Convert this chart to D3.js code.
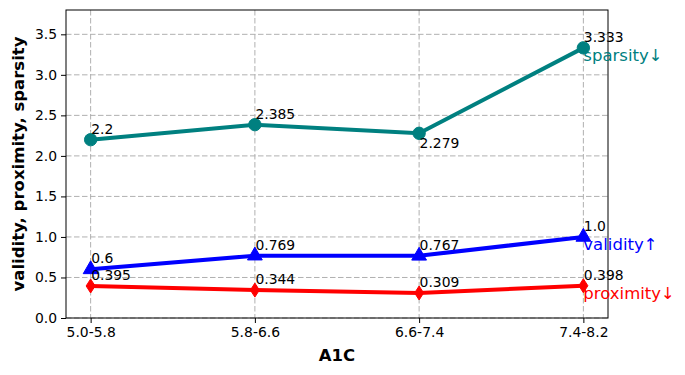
<!DOCTYPE html>
<html>
<head>
<meta charset="utf-8">
<script src="https://cdn.jsdelivr.net/npm/d3@7"></script>
<style>
body { margin: 0; background: #fff; }
text { font-family: "DejaVu Sans", sans-serif; }
</style>
</head>
<body>
<script>
var width = 685;
var height = 375;
var margin = {top: 10, right: 77, bottom: 57, left: 66};

var categories = ["5.0-5.8", "5.8-6.6", "6.6-7.4", "7.4-8.2"];
var sparsity = [2.2, 2.385, 2.279, 3.333];
var validity = [0.6, 0.769, 0.767, 1.0];
var proximity = [0.395, 0.344, 0.309, 0.398];
var yTicks = [0, 0.5, 1, 1.5, 2, 2.5, 3, 3.5];

var series = [
    {name: "sparsity↓", values: sparsity, color: "#008080", marker: "circle"},
    {name: "validity↑", values: validity, color: "#0000ff", marker: "triangle"},
    {name: "proximity↓", values: proximity, color: "#ff0000", marker: "diamond"}
];

var x = d3.scaleLinear()
    .domain([-0.15, categories.length - 1 + 0.15])
    .range([margin.left, width - margin.right]);

var y = d3.scaleLinear()
    .domain([0, 3.8])
    .range([height - margin.bottom, margin.top]);

var svg = d3.select("body")
    .append("svg")
    .attr("width", width)
    .attr("height", height);

// grid
svg.append("g").selectAll("line")
    .data(yTicks).enter()
    .append("line")
    .attr("x1", margin.left).attr("x2", width - margin.right)
    .attr("y1", d => y(d)).attr("y2", d => y(d))
    .attr("stroke", "#b0b0b0").attr("stroke-width", 1)
    .attr("stroke-dasharray", "5.5,2.5");

svg.append("g").selectAll("line")
    .data(categories).enter()
    .append("line")
    .attr("x1", (d, i) => x(i)).attr("x2", (d, i) => x(i))
    .attr("y1", margin.top).attr("y2", height - margin.bottom)
    .attr("stroke", "#b0b0b0").attr("stroke-width", 1)
    .attr("stroke-dasharray", "5.5,2.5");

// axes
var xAxis = svg.append("g")
    .attr("transform", "translate(0," + (height - margin.bottom) + ")")
    .call(d3.axisBottom(x).tickValues(d3.range(categories.length))
        .tickFormat(i => categories[i]).tickSize(5).tickPadding(4));

var yAxis = svg.append("g")
    .attr("transform", "translate(" + margin.left + ",0)")
    .call(d3.axisLeft(y).tickValues(yTicks).tickFormat(d3.format(".1f"))
        .tickSize(5).tickPadding(4));

[xAxis, yAxis].forEach(a => {
    a.select(".domain").remove();
    a.selectAll("text").attr("font-size", 13.9).attr("fill", "#000")
        .style("font-family", "DejaVu Sans");
    a.selectAll("line").attr("stroke", "#000");
});

svg.append("rect")
    .attr("x", margin.left).attr("y", margin.top)
    .attr("width", width - margin.left - margin.right)
    .attr("height", height - margin.top - margin.bottom)
    .attr("fill", "none").attr("stroke", "#000").attr("stroke-width", 1);

// lines
var line = d3.line()
    .x((d, i) => x(i))
    .y(d => y(d));

series.forEach(s => {
    svg.append("path")
        .datum(s.values)
        .attr("d", line)
        .attr("fill", "none")
        .attr("stroke", s.color)
        .attr("stroke-width", 4);

    var sym;
    if (s.marker === "circle") sym = d3.symbol().type(d3.symbolCircle).size(120);
    else if (s.marker === "triangle") sym = d3.symbol().type(d3.symbolTriangle).size(95);
    else sym = null;

    var g = svg.append("g").selectAll("path")
        .data(s.values).enter()
        .append("path")
        .attr("fill", s.color)
        .attr("stroke", s.color);
    if (sym) {
        g.attr("d", sym)
            .attr("transform", (d, i) => "translate(" + x(i) + "," + y(d) + ")");
    } else {
        g.attr("d", "M0,-7L4.5,0L0,7L-4.5,0Z")
            .attr("transform", (d, i) => "translate(" + x(i) + "," + y(d) + ")");
    }

    // value labels
    svg.append("g").selectAll("text")
        .data(s.values).enter()
        .append("text")
        .attr("x", (d, i) => x(i) + 0.5)
        .attr("y", (d, i) => (s.name === "sparsity↓" && i === 2) ? y(d) + 15 : y(d) - 6)
        .attr("font-size", 13.9)
        .attr("fill", "#000")
        .text(d => String(d) === "1" ? "1.0" : String(d));

    // series name
    var last = s.values.length - 1;
    svg.append("text")
        .attr("x", x(last))
        .attr("y", y(s.values[last]) + 13)
        .attr("font-size", 16.5)
        .attr("fill", s.color)
        .text(s.name);
});

// axis titles
svg.append("text")
    .attr("x", (margin.left + width - margin.right) / 2)
    .attr("y", 361)
    .attr("text-anchor", "middle")
    .attr("font-size", 16.5)
    .attr("font-weight", "bold")
    .text("A1C");

svg.append("text")
    .attr("transform", "translate(24," + ((margin.top + height - margin.bottom) / 2) + ") rotate(-90)")
    .attr("text-anchor", "middle")
    .attr("font-size", 16.5)
    .attr("font-weight", "bold")
    .text("validity, proximity, sparsity");
</script>
</body>
</html>
